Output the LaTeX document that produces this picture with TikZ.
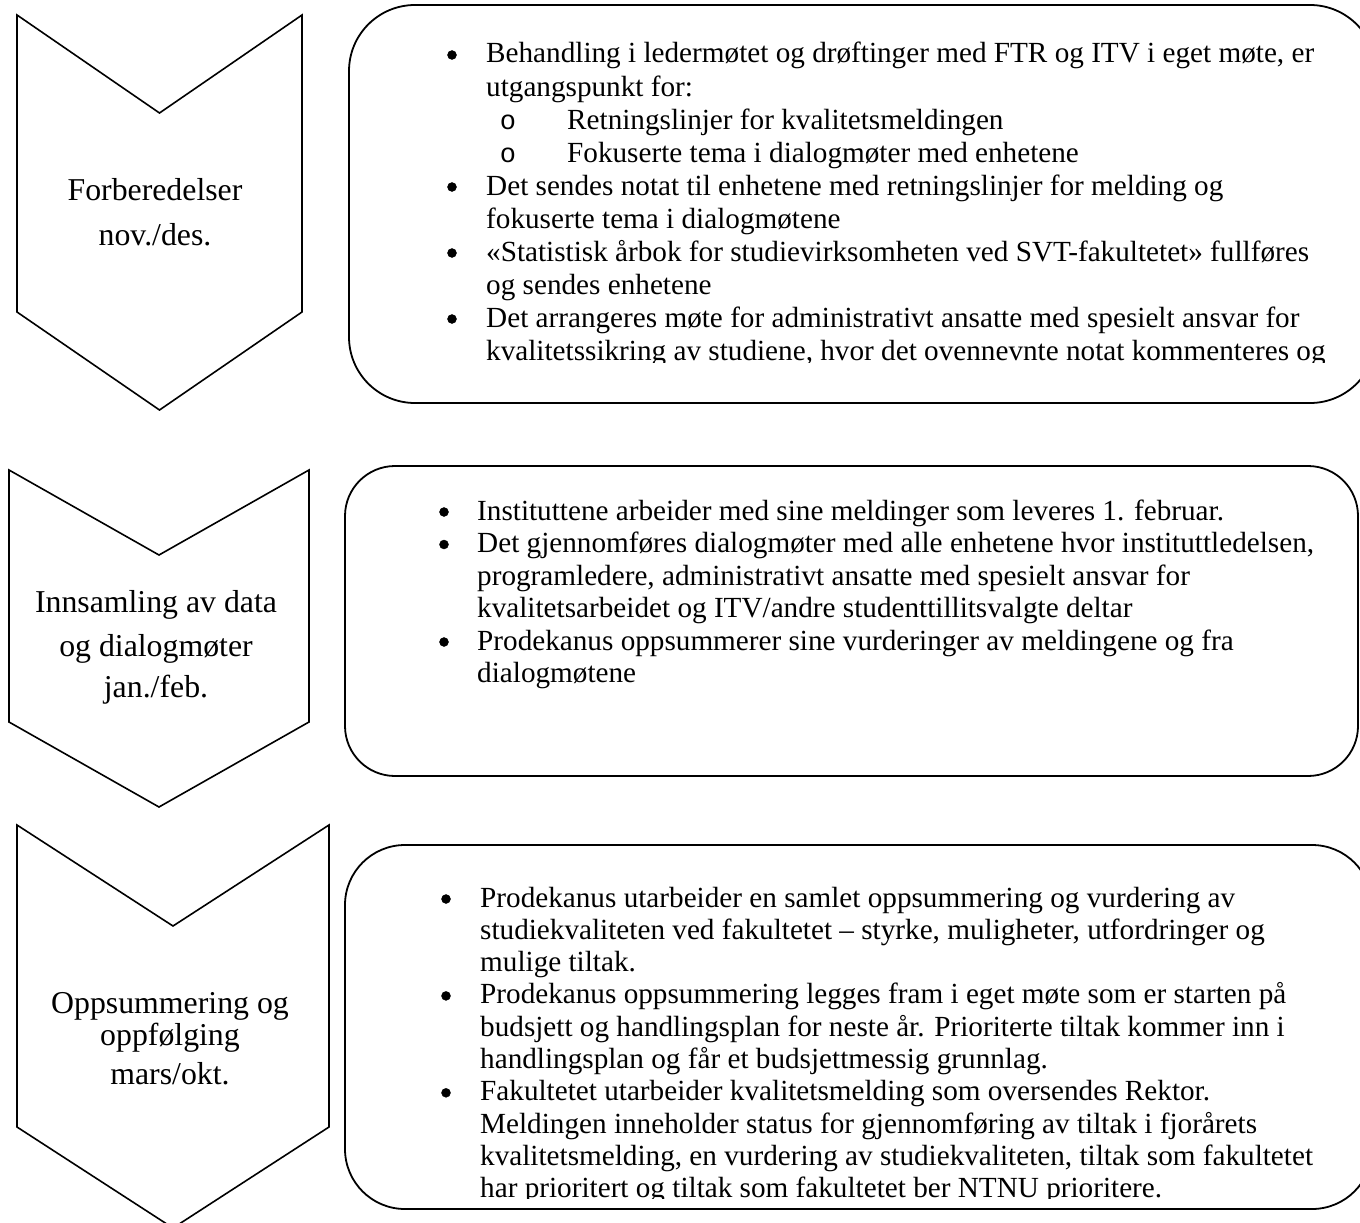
\documentclass[tikz,border=0pt]{standalone}
\usepackage{fontspec}
\setmainfont{Liberation Serif}
\newfontfamily\monof{Liberation Mono}
\begin{document}
\begin{tikzpicture}[x=1pt,y=-1pt,
  shapeline/.style={draw=black,line width=1.6pt,line join=miter},
  boxline/.style={draw=black,line width=1.8pt},
  txt/.style={inner sep=0pt,anchor=base west,font=\fontsize{29.2}{34}\selectfont},
  bul/.style={circle,fill=black,draw=black,inner sep=0pt,minimum size=9pt},
  sub/.style={inner sep=0pt,anchor=base,font=\monof\fontsize{27}{34}\selectfont},
  lab/.style={inner sep=0pt,anchor=base,font=\fontsize{31.8}{36}\selectfont}]
\useasboundingbox (0,0) rectangle (1360,1223);
\fill[white] (0,0) rectangle (1360,1223);
% chevrons
\draw[shapeline] (17,15) -- (159.5,113) -- (302,15) -- (302,312) -- (159.5,410) -- (17,312) -- cycle;
\draw[shapeline] (9,470) -- (159,555) -- (309,470) -- (309,722) -- (159,807) -- (9,722) -- cycle;
\draw[shapeline] (17,825) -- (173,926) -- (329,825) -- (329,1127) -- (173,1228) -- (17,1127) -- cycle;
\node[lab] (c1a) at (155,200) {Forberedelser};
\node[lab] (c1b) at (155,245) {nov./des.};
\node[lab] (c2a) at (156,612) {Innsamling av data};
\node[lab] (c2b) at (156,656) {og dialogmøter};
\node[lab] (c2c) at (156,697) {jan./feb.};
\node[lab] (c3a) at (170,1013) {Oppsummering og};
\node[lab] (c3b) at (170,1045) {oppfølging};
\node[lab] (c3c) at (170,1084) {mars/okt.};
% boxes
\draw[boxline,rounded corners=66pt] (349,5) rectangle (1376,403);
\draw[boxline,rounded corners=50pt] (345,466) rectangle (1358,776);
\draw[boxline,rounded corners=60pt] (345,845) rectangle (1372,1209);
% box 1 text
\begin{scope}
\clip (352,8) rectangle (1360,362);
\node[bul] (b1p1) at (452,55) {};
\node[txt] (b1l1) at (486,63) {Behandling i ledermøtet og drøftinger med FTR og ITV i eget møte, er};
\node[txt] (b1l2) at (486,96) {utgangspunkt for:};
\node[sub] (b1s1) at (508,129) {o};
\node[txt] (b1l3) at (567,129) {Retningslinjer for kvalitetsmeldingen};
\node[sub] (b1s2) at (508,162) {o};
\node[txt] (b1l4) at (567,162) {Fokuserte tema i dialogmøter med enhetene};
\node[bul] (b1p2) at (452,187) {};
\node[txt] (b1l5) at (486,195) {Det sendes notat til enhetene med retningslinjer for melding og};
\node[txt] (b1l6) at (486,228) {fokuserte tema i dialogmøtene};
\node[bul] (b1p3) at (452,253) {};
\node[txt] (b1l7) at (486,261) {«Statistisk årbok for studievirksomheten ved SVT-fakultetet» fullføres};
\node[txt] (b1l8) at (486,294) {og sendes enhetene};
\node[bul] (b1p4) at (452,319) {};
\node[txt] (b1l9) at (486,327) {Det arrangeres møte for administrativt ansatte med spesielt ansvar for};
\node[txt] (b1l10) at (486,360) {kvalitetssikring av studiene, hvor det ovennevnte notat kommenteres og};
\end{scope}
% box 2 text
\node[bul] (b2p1) at (444,512) {};
\node[txt] (b2l1) at (477,520) {Instituttene arbeider med sine meldinger som leveres 1. februar.};
\node[bul] (b2p2) at (444,544.5) {};
\node[txt] (b2l2) at (477,552.5) {Det gjennomføres dialogmøter med alle enhetene hvor instituttledelsen,};
\node[txt] (b2l3) at (477,585) {programledere, administrativt ansatte med spesielt ansvar for};
\node[txt] (b2l4) at (477,617.5) {kvalitetsarbeidet og ITV/andre studenttillitsvalgte deltar};
\node[bul] (b2p3) at (444,642) {};
\node[txt] (b2l5) at (477,650) {Prodekanus oppsummerer sine vurderinger av meldingene og fra};
\node[txt] (b2l6) at (477,682.5) {dialogmøtene};
% box 3 text
\begin{scope}
\clip (348,848) rectangle (1360,1198);
\node[bul] (b3p1) at (446,899) {};
\node[txt] (b3l1) at (480,907) {Prodekanus utarbeider en samlet oppsummering og vurdering av};
\node[txt] (b3l2) at (480,939.3) {studiekvaliteten ved fakultetet – styrke, muligheter, utfordringer og};
\node[txt] (b3l3) at (480,971.6) {mulige tiltak.};
\node[bul] (b3p2) at (446,995.9) {};
\node[txt] (b3l4) at (480,1003.9) {Prodekanus oppsummering legges fram i eget møte som er starten på};
\node[txt] (b3l5) at (480,1036.2) {budsjett og handlingsplan for neste år. Prioriterte tiltak kommer inn i};
\node[txt] (b3l6) at (480,1068.5) {handlingsplan og får et budsjettmessig grunnlag.};
\node[bul] (b3p3) at (446,1092.8) {};
\node[txt] (b3l7) at (480,1100.8) {Fakultetet utarbeider kvalitetsmelding som oversendes Rektor.};
\node[txt] (b3l8) at (480,1133.1) {Meldingen inneholder status for gjennomføring av tiltak i fjorårets};
\node[txt] (b3l9) at (480,1165.4) {kvalitetsmelding, en vurdering av studiekvaliteten, tiltak som fakultetet};
\node[txt] (b3l10) at (480,1197.7) {har prioritert og tiltak som fakultetet ber NTNU prioritere.};
\end{scope}
\end{tikzpicture}
\end{document}
